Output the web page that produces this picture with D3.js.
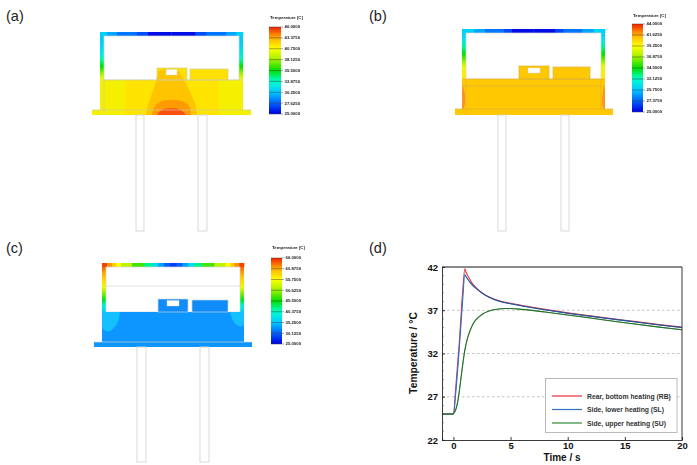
<!DOCTYPE html>
<html><head><meta charset="utf-8">
<script src="https://cdn.jsdelivr.net/npm/d3@7"></script>
<style>html,body{margin:0;background:#fff}svg{display:block}text{font-family:"Liberation Sans",Arial,sans-serif}</style>
</head><body><svg id="c" width="697" height="465"></svg>
<script>
// ---- line chart data (panel d) ----
const timeRB=[-1,0,0.2,0.5,0.8,1,1.1,1.3,1.6,2,2.5,3,4,5,6,8,10,12,15,18,20];
const tempRB=[25,25,28,33,39,41.8,41.4,40.9,40.2,39.6,39,38.6,38.1,37.8,37.55,37.1,36.7,36.35,35.85,35.35,35.05];
const timeSL=[-1,0,0.2,0.5,0.8,1,1.1,1.3,1.6,2,2.5,3,4,5,6,8,10,12,15,18,20];
const tempSL=[25,25,27.4,32.4,38,41.1,40.9,40.5,40,39.5,39,38.6,38.05,37.75,37.5,37.05,36.65,36.3,35.8,35.3,35];
const timeSU=[-1,-0.1,0,0.2,0.4,0.6,0.8,1,1.2,1.5,1.8,2.2,2.6,3,3.5,4,4.5,5,6,8,10,12,15,18,20];
const tempSU=[25,25,25.05,25.5,26.6,28.5,30.6,32.4,33.6,34.8,35.6,36.2,36.6,36.85,37.05,37.15,37.2,37.2,37.1,36.8,36.45,36.1,35.55,35.05,34.75];
const seriesNames=["Rear, bottom heating (RB)","Side, lower heating (SL)","Side, upper heating (SU)"];
const seriesColors=["#e8303c","#2f6fc4","#2f8a35"];
const yMajor=[22,27,32,37,42], yMinor=d3.range(22,43), xMajor=[0,5,10,15,20];
const gridValues=[27,32,37];
// ---- colour bars ----
const tickA=["46.0000","43.3750","40.7500","38.1250","35.5000","32.8750","30.2500","27.6250","25.0000"];
const tickB=["44.0000","41.6250","39.2500","36.8750","34.5000","32.1250","29.7500","27.3750","25.0000"];
const tickC=["66.0000","60.8750","55.7500","50.6250","45.5000","40.3750","35.2500","30.1250","25.0000"];
// normalised temperature bands along the roof, from the left corner to the middle (mirrored after)
const roofA=[0.27,0.21,0.15,0.1,0.02], roofEdgeA=[0,7,17,37,48,71.5];
const roofB=[0.27,0.21,0.15,0.09,0.02], roofEdgeB=[0,12,23,42,50,71.5];
const roofC=[0.97,0.9,0.83,0.75,0.66,0.55,0.42,0.3,0.2,0.12,0.08], roofEdgeC=[0,5,10,14,19,30,42,50,56,62,68,71];
// normalised temperature along the side wall from top to bottom
const wallA=[0.26,0.26,0.28,0.32,0.4,0.5,0.62,0.74];
const wallB=[0.26,0.28,0.33,0.42,0.5,0.6,0.72,0.78,0.78];
const wallC=[0.97,0.92,0.86,0.8,0.72,0.6,0.48,0.34,0.26];

const svg=d3.select("#c");
const defs=svg.append("defs");
defs.append("filter").attr("id","soft").attr("filterUnits","userSpaceOnUse").attr("x",0).attr("y",0).attr("width",697).attr("height",465)
  .append("feGaussianBlur").attr("stdDeviation",.4);
const layer=svg.append("g").attr("filter","url(#soft)");
const jet=d3.scaleLinear().domain([0,.125,.25,.375,.5,.625,.75,.875,1])
  .range(["#0000e0","#0060ff","#00c8ff","#00ffd0","#00e000","#a0f000","#ffff00","#ffb000","#f02000"]).clamp(true);

function colorBar(x0,x1,y0,y1,ticks,id,titleY){
  const y=d3.scaleLinear().domain([0,ticks.length-1]).range([y0,y1]);
  const grad=defs.append("linearGradient").attr("id",id).attr("x1",0).attr("x2",0).attr("y1",1).attr("y2",0);
  d3.range(0,1.001,.05).forEach(t=>grad.append("stop").attr("offset",t).attr("stop-color",jet(t)));
  layer.append("rect").attr("x",x0).attr("y",y0).attr("width",x1-x0).attr("height",y1-y0).attr("fill",`url(#${id})`);
  layer.selectAll(null).data(ticks).join("line").attr("x1",x0).attr("x2",x1+2)
    .attr("y1",(d,i)=>y(i)).attr("y2",(d,i)=>y(i)).attr("stroke","#444").attr("stroke-opacity",.7).attr("stroke-width",.7);
  layer.selectAll(null).data(ticks).join("text").attr("x",x1+3.5).attr("y",(d,i)=>y(i)+1.4).attr("font-size",4.3).attr("fill","#222").attr("font-weight","bold").text(d=>d);
  layer.append("text").attr("x",x0+1).attr("y",titleY).attr("font-size",4.3).attr("font-weight","bold").attr("fill","#222").text("Temperature [C]");
}

const smooth=d3.line().x(d=>d[0]).y(d=>d[1]).curve(d3.curveBasis);
const EDGE="#d4d4d4";

function device(p){
  const w=p.wall;
  const gid="w"+p.id;
  const g=defs.append("linearGradient").attr("id",gid).attr("x1",0).attr("x2",0).attr("y1",0).attr("y2",1);
  p.wallT.forEach((t,i)=>g.append("stop").attr("offset",i/(p.wallT.length-1)).attr("stop-color",jet(t)));
  [p.fx0,p.fx1-w].forEach(x=>layer.append("rect").attr("x",x).attr("y",p.top).attr("width",w).attr("height",p.wy1-p.top).attr("fill",`url(#${gid})`));
  p.roof.forEach((t,i)=>{
    const a=p.edges[i],b=p.edges[i+1];
    [[p.fx0+a,b-a],[p.fx1-b,b-a]].forEach(([x,wd])=>layer.append("rect").attr("x",x).attr("y",p.top).attr("width",wd+.3).attr("height",w).attr("fill",jet(t)));
  });
  layer.append("rect").attr("x",p.fx0+w).attr("y",p.top+w).attr("width",p.fx1-p.fx0-2*w).attr("height",p.wy1-p.top-w).attr("fill","#fff").attr("stroke",EDGE).attr("stroke-width",.7);
  layer.append("rect").attr("x",p.fx0).attr("y",p.wy1).attr("width",p.fx1-p.fx0).attr("height",p.by0-p.wy1).attr("fill",p.body);
  layer.append("rect").attr("x",p.bx0).attr("y",p.by0).attr("width",p.bx1-p.bx0).attr("height",p.by1-p.by0).attr("fill",p.body);
  layer.append("rect").attr("x",p.k1[0]).attr("y",p.k1[2]).attr("width",p.k1[1]-p.k1[0]).attr("height",p.wy1-p.k1[2]).attr("fill",p.block1);
  layer.append("rect").attr("x",p.k2[0]).attr("y",p.k2[2]).attr("width",p.k2[1]-p.k2[0]).attr("height",p.wy1-p.k2[2]).attr("fill",p.block2);
  if(p.extra) p.extra(p);
  [p.k1,p.k2].forEach(k=>layer.append("rect").attr("x",k[0]).attr("y",k[2]).attr("width",k[1]-k[0]).attr("height",p.wy1-k[2]).attr("fill","none").attr("stroke",p.lineCol||EDGE).attr("stroke-width",.7));
  layer.append("rect").attr("x",p.hole[0]).attr("y",p.hole[2]).attr("width",p.hole[1]-p.hole[0]).attr("height",p.hole[3]-p.hole[2]).attr("fill","#fff").attr("stroke",EDGE).attr("stroke-width",.4);
  (p.lines||[]).forEach(l=>layer.append("line").attr("x1",l[0]).attr("y1",l[1]).attr("x2",l[2]).attr("y2",l[3]).attr("stroke",p.lineCol||EDGE).attr("stroke-width",.7));
  p.pins.forEach(q=>layer.append("rect").attr("x",q[0]).attr("y",p.by1).attr("width",q[1]-q[0]).attr("height",p.pinEnd-p.by1).attr("fill","#fff").attr("stroke",EDGE).attr("stroke-width",.9));
}

device({id:"a",fx0:100,fx1:243,top:32,wall:4,wy1:80,by0:110,by1:115,bx0:92,bx1:251,
  body:"#f4f000",block1:"#ffe000",block2:"#ffe000",k1:[157,187,68],k2:[190,228,69],hole:[166,177,69.5,75],
  pins:[[136,144],[198,207]],pinEnd:231,roof:roofA,edges:roofEdgeA,wallT:wallA,lineCol:"#cfcf9a",
  lines:[[92,110,251,110],[104,80,104,115],[100,80,243,80]],
  extra(p){
    layer.append("rect").attr("x",125).attr("y",80).attr("width",94).attr("height",35).attr("fill","#ffe400");
    layer.append("path").attr("fill","#ffc400").attr("d",smooth([[146,115],[146,115],[147,108],[151,96],[156,83],[158,72],[160,69],[178,69],[182,76],[188,87],[194,100],[197,110],[197,115],[197,115]]));
    layer.append("path").attr("fill","#ff9a00").attr("d",smooth([[152,115],[152,115],[153,107],[161,100],[172,100],[183,100],[191,107],[191,115],[191,115]]));
    layer.append("path").attr("fill","#ff5010").attr("d",smooth([[157,115],[157,115],[161,109],[172,108],[181,109],[186,115],[186,115]]));
  }});

device({id:"b",fx0:462,fx1:605,top:29,wall:4,wy1:79,by0:109,by1:115,bx0:455,bx1:613,
  body:"#ffc800",block1:"#ffc800",block2:"#ffc800",k1:[519,549,66],k2:[553,590,67],hole:[528,540,68,73],
  pins:[[498,506],[561,569]],pinEnd:231,roof:roofB,edges:roofEdgeB,wallT:wallB,lineCol:"#dcb23c",
  lines:[[462,86,605,86],[466,79,466,115],[601,79,601,109],[455,109,613,109],[462,79,605,79]],
  extra(p){
    layer.append("path").attr("fill","#ff9020").attr("d",smooth([[462,85],[462,85],[465,92],[465.5,102],[464,109],[462,109],[462,109]]));
    layer.append("path").attr("fill","#ff9020").attr("d",smooth([[605,85],[605,85],[602.5,92],[602,102],[603,109],[605,109],[605,109]]));
  }});

device({id:"c",fx0:102,fx1:244,top:263,wall:4,wy1:312,by0:342,by1:347,bx0:94,bx1:252,
  body:"#0a96ff",block1:"#0a8cfa",block2:"#0a8cfa",k1:[158,188,299],k2:[192,228,300],hole:[167,179,300.5,306],
  pins:[[137,146],[200,209]],pinEnd:462,roof:roofC,edges:roofEdgeC,wallT:wallC,
  lines:[[106,286,240,286],[94,342,252,342]],
  extra(p){
    layer.append("path").attr("fill","#12c0ff").attr("d",smooth([[102,312],[102,312],[120,312],[120,312],[119,322],[112,331],[106,332],[102,328],[102,328]]));
    layer.append("path").attr("fill","#12c0ff").attr("d",smooth([[244,312],[244,312],[230,312],[230,312],[232,320],[237,326],[242,327],[244,324],[244,324]]));
  }});

colorBar(269,281,27,114,tickA,"ga",18.5);
colorBar(632,643,24,112,tickB,"gb",16.5);
colorBar(271,282,258,344,tickC,"gc",249);

[["(a)",6,21],["(b)",369,21],["(c)",6,253],["(d)",369,253]].forEach(([t,x,y])=>
  svg.append("text").attr("x",x).attr("y",y).attr("font-size",14.5).attr("fill","#222").text(t));

// ---- panel d ----
const X=d3.scaleLinear().domain([-1,20]).range([442,682]);
const Y=d3.scaleLinear().domain([22,42]).range([440,267]);
gridValues.forEach(v=>svg.append("line").attr("x1",X.range()[0]).attr("x2",X.range()[1]).attr("y1",Y(v)).attr("y2",Y(v)).attr("stroke","#b5b5b5").attr("stroke-width",.8).attr("stroke-dasharray","2.5 2.5"));
const ln=d3.line().x(d=>X(d[0])).y(d=>Y(d[1])).curve(d3.curveMonotoneX);
[[timeRB,tempRB,0],[timeSL,tempSL,1],[timeSU,tempSU,2]].forEach(([t,v,i])=>{
  svg.append("path").attr("d",ln(t.map((d,j)=>[d,v[j]]))).attr("fill","none").attr("stroke",seriesColors[i]).attr("stroke-width",1.1);
});
svg.append("path").attr("d",ln(timeSL.map((d,j)=>[d,tempSL[j]]).slice(5))).attr("fill","none").attr("stroke","#1c3a78").attr("stroke-width",.6);
svg.append("path").attr("d",ln(timeSU.map((d,j)=>[d,tempSU[j]]))).attr("fill","none").attr("stroke","#1f5a22").attr("stroke-width",.6);

svg.append("line").attr("x1",442).attr("x2",682).attr("y1",267).attr("y2",267).attr("stroke","#8a8a8a").attr("stroke-width",1.8);
svg.append("line").attr("x1",682).attr("x2",682).attr("y1",267).attr("y2",440).attr("stroke","#222").attr("stroke-width",.9);
const bottom=d3.axisBottom(X).tickValues(xMajor).tickSize(-3).tickPadding(2).tickFormat(d3.format("d"));
const left=d3.axisLeft(Y).tickValues(yMajor).tickSize(-3).tickPadding(4).tickFormat(d3.format("d"));
const gb=svg.append("g").attr("transform","translate(0,440)").call(bottom);
const gl=svg.append("g").attr("transform","translate(442,0)").call(left);
[gb,gl].forEach(g=>{g.selectAll("text").attr("font-size",9.5).attr("font-weight","bold").attr("fill","#111").style("font-family",'"Liberation Sans"');
  g.select(".domain").attr("stroke","#222").attr("stroke-width",.9);
  g.selectAll(".tick line").attr("stroke","#222").attr("stroke-width",.9);});
svg.selectAll(null).data(yMinor).join("line").attr("x1",442).attr("x2",444).attr("y1",d=>Y(d)).attr("y2",d=>Y(d)).attr("stroke","#444").attr("stroke-width",.5);
svg.append("text").attr("x",562).attr("y",461).attr("text-anchor","middle").attr("font-size",10).attr("font-weight","bold").attr("fill","#111").text("Time / s");
svg.append("text").attr("transform","translate(417,353) rotate(-90)").attr("text-anchor","middle").attr("font-size",10.3).attr("font-weight","bold").attr("fill","#111").text("Temperature / °C");

// legend
svg.append("rect").attr("x",545.5).attr("y",378.5).attr("width",131.5).attr("height",54).attr("fill","#fff").attr("stroke","#aaa").attr("stroke-width",.8);
const ly=d3.scalePoint().domain(seriesNames).range([396,423]);
seriesNames.forEach((n,i)=>{
  svg.append("line").attr("x1",552).attr("x2",582).attr("y1",ly(n)).attr("y2",ly(n)).attr("stroke",seriesColors[i]).attr("stroke-width",1.2);
  svg.append("text").attr("x",587).attr("y",ly(n)+2.5).attr("font-size",6.8).attr("font-weight","bold").attr("fill","#333").text(n);
});
</script></body></html>
